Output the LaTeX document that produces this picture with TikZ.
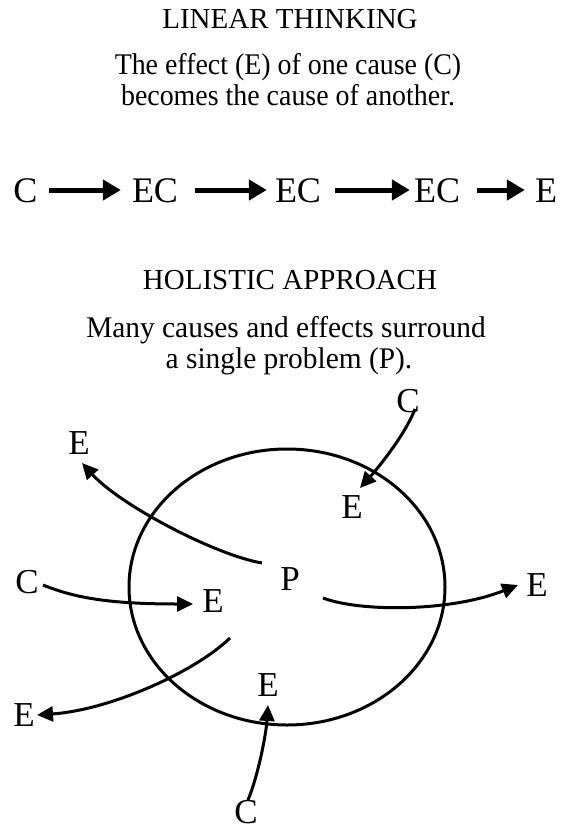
\documentclass[tikz,border=0pt]{standalone}
\usepackage{fontspec}
\setmainfont{Liberation Serif}
\usetikzlibrary{arrows.meta}
\begin{document}
\begin{tikzpicture}[x=1pt,y=-1pt,
  titletext/.style={font=\fontsize{29}{29}\selectfont, anchor=base, inner sep=0pt},
  bodytext/.style={font=\fontsize{30}{30}\selectfont, anchor=base, inner sep=0pt},
  linlabel/.style={font=\fontsize{36}{36}\selectfont, inner sep=0pt, text height=24pt, text depth=0pt},
  hollabel/.style={font=\fontsize{35}{35}\selectfont, inner sep=0pt, text height=23pt, text depth=0pt},
  linarrow/.style={line width=5pt, -{Triangle[length=18pt,width=20pt]}},
  holarrow/.style={line width=3pt, -{Triangle[length=16pt,width=15pt]}},
  ring/.style={line width=3pt}]
\useasboundingbox[fill=white] (0,0) rectangle (565,832);

% ---- Linear thinking ----
\node[titletext] (t1) at (290,29) {LINEAR THINKING};
\node[bodytext] (t2) at (288,75) {\scalebox{0.93}[1]{The effect (E) of one cause (C)}};
\node[bodytext] (t3) at (288,106) {\scalebox{0.93}[1]{becomes the cause of another.}};

\node[linlabel] (c0) at (25.5,190) {C};
\node[linlabel] (ec1) at (155,190) {EC};
\node[linlabel] (ec2) at (298,190) {EC};
\node[linlabel] (ec3) at (437,190) {EC};
\node[linlabel] (e4) at (546,190) {E};

\draw[linarrow] ([xshift=11pt]c0.east) -- ([xshift=-11pt]ec1.west);
\draw[linarrow] ([xshift=17pt]ec1.east) -- ([xshift=-8pt]ec2.west);
\draw[linarrow] ([xshift=14pt]ec2.east) -- ([xshift=-4pt]ec3.west);
\draw[linarrow] ([xshift=17pt]ec3.east) -- ([xshift=-10pt]e4.west);

% ---- Holistic approach ----
\node[titletext] (h1) at (290,289) {HOLISTIC APPROACH};
\node[bodytext] (h2) at (286,337) {\scalebox{0.98}[1]{Many causes and effects surround}};
\node[bodytext] (h3) at (289,368) {\scalebox{0.98}[1]{a single problem (P).}};

\draw[ring] (287,587) ellipse [x radius=158, y radius=138];

\node[hollabel] (ct) at (408,401) {C};
\node[hollabel] (el1) at (79,443) {E};
\node[hollabel] (ein) at (352,507) {E};
\node[hollabel] (p) at (290,579) {P};
\node[hollabel] (cl) at (27,582) {C};
\node[hollabel] (em) at (213,601) {E};
\node[hollabel] (er) at (537,585) {E};
\node[hollabel] (ebl) at (24,715) {E};
\node[hollabel] (eb) at (268,685) {E};
\node[hollabel] (cb) at (246,812) {C};

\coordinate (s2) at (262,563);
\coordinate (s4) at (323,598);
\coordinate (s5) at (230,638);

\draw[holarrow] ([shift={(7,8)}]ct.center) .. controls (405,435) and (378,468) .. ([shift={(8,-19)}]ein.center);
\draw[holarrow] (s2) .. controls (215,555) and (120,505) .. ([shift={(3,20)}]el1.center);
\draw[holarrow] ([shift={(16,3)}]cl.center) .. controls (75,598) and (110,604) .. ([shift={(-20,3)}]em.center);
\draw[holarrow] (s4) .. controls (360,612) and (450,612) .. ([shift={(-19,0)}]er.center);
\draw[holarrow] (s5) .. controls (195,672) and (110,710) .. ([shift={(13,0)}]ebl.center);
\draw[holarrow] ([shift={(2,-12)}]cb.center) .. controls (258,776) and (266,735) .. ([shift={(0,20)}]eb.center);
\end{tikzpicture}
\end{document}
